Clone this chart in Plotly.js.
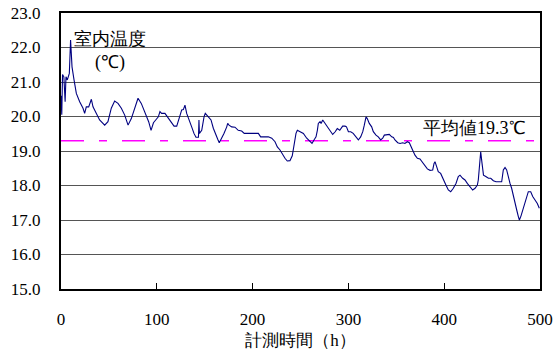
<!DOCTYPE html>
<html>
<head>
<meta charset="utf-8">
<script src="https://cdn.plot.ly/plotly-3.0.1.min.js"></script>
<style>html,body{margin:0;padding:0;background:#fff;}#chart{width:554px;height:354px;}</style>
</head>
<body>
<div id="chart"></div>
<script>
// 計測時間 (h)
const hours = [0,0.8,1.6,3,4.3,5.2,6.6,8.7,10,11.5,13.6,16,19.5,23,24.7,26.4,28.9,31.7,33.4,36.9,40.3,45.6,49,52.5,56,59.5,63,66.5,70,73.4,77.6,80.4,83.8,86.6,89,91.5,94,96.5,99.5,101.6,103.3,105,108.5,112,115.5,118,120.8,123.5,126,127.7,129.4,131.2,134,136.4,138.8,140.9,143.5,144,144.5,146.9,149.3,150.6,153.8,156.6,159,161.5,163.6,165.2,167.7,170.1,173,174,175.4,178.2,181.6,185,188.6,191.3,206,208.4,216.4,220,223.4,225.8,228.6,231.4,233.8,236.2,239,241.4,242.5,243.5,245.3,246.7,249.5,253,256.5,260,262,264.1,266.2,267.6,268.6,270.4,271.5,273.2,275.6,278,280.8,283.6,286,288.4,291,294,296.5,298,300,302.4,305,308,310.4,312.8,315,316.6,318.4,319.7,321.8,324.3,326,328.8,331.2,333.7,335.8,337.5,340,342.7,345.2,347,348.6,351.5,353.9,356.7,359,361.5,363.6,365,367,369.5,372,374.7,377.5,380,382.4,385.2,388,389.4,390.4,392.2,393.8,396.3,399,401.9,404.3,406.8,409.5,412.3,414.7,416.5,419.3,421.7,424.1,427,429.7,432.2,434.6,435.6,436.7,438.1,439.5,441,443.4,446.2,448.6,451.3,454.1,460,461.7,463.5,465.2,466.9,468.7,470.4,472.2,474,475.7,477.4,478.5,480.2,482,484.3,486.1,487.8,490.3,492.4,494.8,497.2,499.3];
// 室内温度 (℃)
const temps = [20.6,20.05,21.22,21.15,20.43,21.15,21.06,21.25,22.22,21.44,21.06,20.67,20.43,20.24,20.09,20.28,20.28,20.5,20.28,20.09,19.9,19.75,19.85,20.24,20.45,20.38,20.24,20.04,19.75,19.94,20.28,20.53,20.38,20.19,20.04,19.85,19.6,19.82,19.92,19.99,20.14,20.09,20.09,19.94,19.8,19.72,19.72,19.94,20.19,20.2,20.33,20.09,19.9,19.7,19.51,19.4,19.4,19.9,19.51,19.6,19.99,20.09,19.99,19.9,19.66,19.46,19.34,19.24,19.37,19.51,19.7,19.8,19.75,19.7,19.69,19.6,19.58,19.51,19.51,19.41,19.41,19.37,19.27,19.12,19.03,18.88,18.79,18.71,18.72,18.86,19.03,19.27,19.51,19.6,19.56,19.51,19.37,19.27,19.22,19.32,19.41,19.6,19.8,19.85,19.8,19.9,19.8,19.7,19.56,19.48,19.55,19.65,19.6,19.72,19.72,19.7,19.56,19.56,19.51,19.41,19.32,19.41,19.56,19.75,19.99,19.94,19.8,19.7,19.56,19.46,19.41,19.32,19.37,19.46,19.46,19.48,19.41,19.39,19.32,19.24,19.22,19.24,19.22,19.27,19.24,19.17,19.03,18.88,18.79,18.77,18.66,18.56,18.48,18.44,18.45,18.64,18.69,18.54,18.4,18.35,18.16,18.01,17.87,17.82,17.92,18.06,18.26,18.3,18.21,18.16,18.06,17.97,17.87,17.92,18.01,18.16,18.45,18.98,18.64,18.3,18.26,18.21,18.21,18.14,18.11,18.11,18.45,18.52,18.45,18.21,18.06,17.92,17.68,17.43,17.29,17.1,17.0,17.12,17.29,17.48,17.72,17.82,17.82,17.68,17.58,17.48,17.34];
const meanTemp = 19.3;
const xTicks = [0,100,200,300,400,500];
const xLabels = ["0","100","200","300","400","500"];
const yTicks = [15,16,17,18,19,20,21,22,23];
const yLabels = ["15.0","16.0","17.0","18.0","19.0","20.0","21.0","22.0","23.0"];
const yTitleText = "室内温度<br>(℃)";
const xTitleText = "計測時間（h）";
const meanLabel = "平均値19.3℃";

const FONT = "Liberation Serif";

const traces = [
  {x: [0, 500], y: [meanTemp, meanTemp], mode: 'lines', line: {color: '#FF00FF', width: 1.5, dash: '23px,15px,8px,15px'}, hoverinfo: 'skip'},
  {x: hours, y: temps, mode: 'lines', line: {color: '#000080', width: 1.1}}
];

const layout = {
  width: 554, height: 354,
  margin: {l: 61, r: 14, t: 13, b: 65},
  paper_bgcolor: '#fff', plot_bgcolor: '#fff',
  showlegend: false,
  font: {family: FONT, size: 17, color: '#000'},
  xaxis: {
    range: [0, 500], tickvals: xTicks, ticktext: xLabels,
    ticks: 'inside', ticklen: 6, tickwidth: 1, tickcolor: '#000',
    showgrid: false, zeroline: false,
    showline: true, linecolor: '#000', linewidth: 2, mirror: true,
    ticklabelstandoff: 14,
    tickfont: {family: FONT, size: 17, color: '#000'},
    title: {text: xTitleText, font: {family: FONT, size: 17, color: '#000'}, standoff: 6}
  },
  yaxis: {
    range: [15, 23], tickvals: yTicks, ticktext: yLabels,
    ticks: '', showgrid: true, gridcolor: '#555', gridwidth: 1, zeroline: false,
    showline: true, linecolor: '#000', linewidth: 2, mirror: true,
    tickfont: {family: FONT, size: 17, color: '#000'},
    ticklabelstandoff: 15
  },
  annotations: [
    {x: 51, y: 21.9, xref: 'x', yref: 'y', text: yTitleText, showarrow: false, align: 'center',
     font: {family: FONT, size: 18, color: '#000'}, xanchor: 'center', yanchor: 'middle'},
    {x: 432, y: 19.67, xref: 'x', yref: 'y', text: meanLabel, showarrow: false,
     font: {family: FONT, size: 18, color: '#000'}, xanchor: 'center', yanchor: 'middle'}
  ]
};

Plotly.newPlot('chart', traces, layout, {staticPlot: true, displayModeBar: false});
</script>
</body>
</html>
